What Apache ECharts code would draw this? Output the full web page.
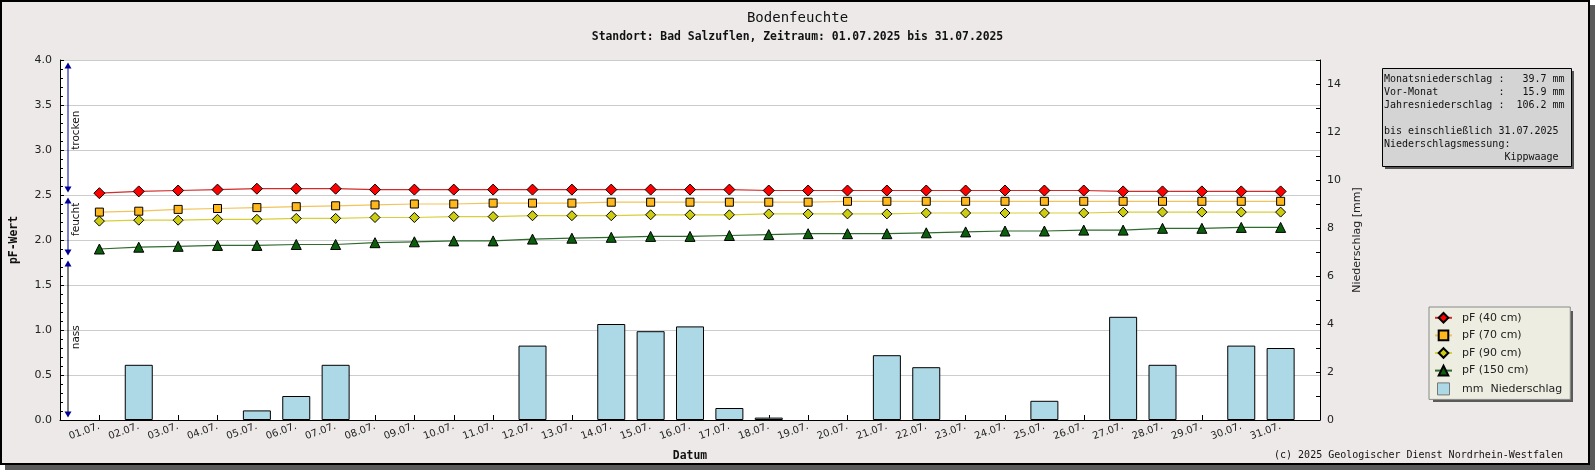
<!DOCTYPE html>
<html>
<head>
<meta charset="utf-8">
<script src="https://cdn.jsdelivr.net/npm/echarts@6/dist/echarts.min.js"></script>
<style>
html,body{margin:0;padding:0;background:#fff;}
#chart{width:1595px;height:470px;}
</style>
</head>
<body>
<div id="chart"></div>
<script>
const categories = ['01.07.','02.07.','03.07.','04.07.','05.07.','06.07.','07.07.','08.07.','09.07.','10.07.',
  '11.07.','12.07.','13.07.','14.07.','15.07.','16.07.','17.07.','18.07.','19.07.','20.07.',
  '21.07.','22.07.','23.07.','24.07.','25.07.','26.07.','27.07.','28.07.','29.07.','30.07.','31.07.'];

const pF40  = [2.52,2.54,2.55,2.56,2.57,2.57,2.57,2.56,2.56,2.56,2.56,2.56,2.56,2.56,2.56,2.56,2.56,2.55,2.55,2.55,2.55,2.55,2.55,2.55,2.55,2.55,2.54,2.54,2.54,2.54,2.54];
const pF70  = [2.31,2.32,2.34,2.35,2.36,2.37,2.38,2.39,2.40,2.40,2.41,2.41,2.41,2.42,2.42,2.42,2.42,2.42,2.42,2.43,2.43,2.43,2.43,2.43,2.43,2.43,2.43,2.43,2.43,2.43,2.43];
const pF90  = [2.21,2.22,2.22,2.23,2.23,2.24,2.24,2.25,2.25,2.26,2.26,2.27,2.27,2.27,2.28,2.28,2.28,2.29,2.29,2.29,2.29,2.30,2.30,2.30,2.30,2.30,2.31,2.31,2.31,2.31,2.31];
const pF150 = [1.90,1.92,1.93,1.94,1.94,1.95,1.95,1.97,1.98,1.99,1.99,2.01,2.02,2.03,2.04,2.04,2.05,2.06,2.07,2.07,2.07,2.08,2.09,2.10,2.10,2.11,2.11,2.13,2.13,2.14,2.14];
const rain  = [0,2.3,0,0,0.4,1.0,2.3,0,0,0,0,3.1,0,4.0,3.7,3.9,0.5,0.1,0,0,2.7,2.2,0,0,0.8,0,4.3,2.3,0,3.1,3.0];

const seriesNames = ['pF (40 cm)','pF (70 cm)','pF (90 cm)','pF (150 cm)','mm  Niederschlag'];

const zones = [
  {label:'trocken', from:4.0, to:2.5, labelAt:3.22, lineColor:'#000099'},
  {label:'feucht',  from:2.5, to:1.8, labelAt:2.23, lineColor:'#000099'},
  {label:'nass',    from:1.8, to:0.0, labelAt:0.92, lineColor:'#000000'}
];

const infoLines = [
  'Monatsniederschlag :   39.7 mm',
  'Vor-Monat          :   15.9 mm',
  'Jahresniederschlag :  106.2 mm',
  '',
  'bis einschließlich 31.07.2025',
  'Niederschlagsmessung:',
  '                    Kippwaage'
];

const titleText = 'Bodenfeuchte';
const subtitleText = 'Standort: Bad Salzuflen, Zeitraum: 01.07.2025 bis 31.07.2025';
const copyrightText = '(c) 2025 Geologischer Dienst Nordrhein-Westfalen';

const pad = a => [null].concat(a, [null]);
const MONO = "'DejaVu Sans Mono', 'Liberation Mono', monospace";
const SANS = "'DejaVu Sans', sans-serif";
const GRID = {left:60, top:60, width:1260, height:360};

const chart = echarts.init(document.getElementById('chart'), null, {renderer:'canvas'});

const option = {
  animation: false,
  backgroundColor: 'transparent',
  title: [
    {text: titleText, left: 'center', top: 6,
     textStyle: {fontFamily: MONO, fontSize: 14, fontWeight: 'normal', color: '#111'}},
    {text: subtitleText, left: 'center', top: 27,
     textStyle: {fontFamily: MONO, fontSize: 11.4, fontWeight: 'bold', color: '#111'}}
  ],
  grid: Object.assign({show: true, backgroundColor: '#fff', borderWidth: 0}, GRID),
  legend: {
    orient: 'vertical', left: 1429, top: 307,
    itemWidth: 17, itemHeight: 12, itemGap: 6,
    padding: [5, 8, 4, 5],
    backgroundColor: '#EDEDE1', borderColor: '#8a8a8a', borderWidth: 1,
    selectedMode: false,
    textStyle: {fontFamily: SANS, fontSize: 11, color: '#222', padding: [0,0,0,5]},
    data: [
      {name: seriesNames[0]}, {name: seriesNames[1]}, {name: seriesNames[2]}, {name: seriesNames[3]},
      {name: seriesNames[4], icon: 'path://M0,0H10V10H0Z', itemStyle:{borderColor:'#777', borderWidth:1}}
    ]
  },
  xAxis: {
    type: 'category', boundaryGap: false,
    data: [''].concat(categories, ['']),
    name: 'Datum', nameLocation: 'middle', nameGap: 31,
    nameTextStyle: {fontFamily: MONO, fontSize: 11.4, fontWeight: 'bold', color: '#111'},
    axisLine: {show: true, lineStyle: {color: '#000', width: 1}},
    axisTick: {show: true, inside: true, length: 5, interval: 0, lineStyle: {color: '#000'}},
    axisLabel: {interval: 0, rotate: 20, margin: 6, fontFamily: SANS, fontSize: 10, color: '#222'},
    splitLine: {show: false}
  },
  yAxis: [
    {
      type: 'value', min: 0, max: 4, interval: 0.5, position: 'left',
      name: 'pF-Wert', nameLocation: 'middle', nameGap: 40, nameRotate: 90,
      nameTextStyle: {fontFamily: MONO, fontSize: 11.4, fontWeight: 'bold', color: '#111'},
      axisLine: {show: true, lineStyle: {color: '#000', width: 1}},
      axisTick: {show: true, inside: true, length: 4, lineStyle: {color: '#000'}},
      minorTick: {show: true, splitNumber: 5, length: 3, lineStyle: {color: '#000'}},
      axisLabel: {formatter: v => v.toFixed(1), margin: 8, fontFamily: SANS, fontSize: 11, color: '#222'},
      splitLine: {show: true, lineStyle: {color: '#cccccc', width: 1}}
    },
    {
      type: 'value', min: 0, max: 15, interval: 1, position: 'right',
      name: 'Niederschlag [mm]', nameLocation: 'middle', nameGap: 32, nameRotate: 90,
      nameTextStyle: {fontFamily: SANS, fontSize: 11, color: '#222'},
      axisLine: {show: true, lineStyle: {color: '#000', width: 1}},
      axisTick: {show: true, inside: true, length: 4, lineStyle: {color: '#000'}},
      axisLabel: {formatter: v => (v % 2 === 0 ? String(v) : ''), margin: 7, fontFamily: SANS, fontSize: 11, color: '#222'},
      splitLine: {show: false}
    }
  ],
  series: [
    {name: seriesNames[4], type: 'bar', yAxisIndex: 1, data: pad(rain.map(v => (v === 0 ? '-' : v))), barWidth: 28, z: 2,
     itemStyle: {color: '#ADD8E6', borderColor: '#000', borderWidth: 1}},
    {name: seriesNames[0], type: 'line', yAxisIndex: 0, data: pad(pF40), z: 8,
     symbol: 'diamond', symbolSize: 11, showAllSymbol: true,
     lineStyle: {color: '#D42A2A', width: 1.2},
     itemStyle: {color: '#FF0000', borderColor: '#000', borderWidth: 1}},
    {name: seriesNames[1], type: 'line', yAxisIndex: 0, data: pad(pF70), z: 7,
     symbol: 'rect', symbolSize: 8, showAllSymbol: true,
     lineStyle: {color: '#F2C35A', width: 1.2},
     itemStyle: {color: '#FFB81C', borderColor: '#000', borderWidth: 1}},
    {name: seriesNames[2], type: 'line', yAxisIndex: 0, data: pad(pF90), z: 6,
     symbol: 'diamond', symbolSize: 10, showAllSymbol: true,
     lineStyle: {color: '#D8CF3A', width: 1.2},
     itemStyle: {color: '#CCCC11', borderColor: '#000', borderWidth: 1}},
    {name: seriesNames[3], type: 'line', yAxisIndex: 0, data: pad(pF150), z: 5,
     symbol: 'triangle', symbolSize: 10, showAllSymbol: true,
     lineStyle: {color: '#2F6B2F', width: 1.2},
     itemStyle: {color: '#0B5E0B', borderColor: '#000', borderWidth: 1}}
  ]
};

chart.setOption(option);

const g = [];
g.push({type:'rect', z:-100, silent:true, shape:{x:5, y:5, width:1590, height:465}, style:{fill:'#5a5a5a'}});
g.push({type:'rect', z:-99, silent:true, shape:{x:1, y:1, width:1588, height:463}, style:{fill:'#ECE9E8', stroke:'#000', lineWidth:2}});

g.push({type:'rect', z:-50, silent:true, shape:{x:1433, y:311, width:140, height:91}, style:{fill:'#5a5a5a'}});

g.push({type:'rect', z:-50, silent:true, shape:{x:1385, y:71, width:189, height:98}, style:{fill:'#555'}});
g.push({type:'rect', z:-49, silent:true, shape:{x:1382.5, y:68.5, width:189, height:98}, style:{fill:'#D4D4D4', stroke:'#000', lineWidth:1}});
g.push({type:'text', z:-48, silent:true, x:1384, y:73,
  style:{text: infoLines.join('\n'), font: '10px ' + MONO, fill:'#111', lineHeight:13, textVerticalAlign:'top', verticalAlign:'top'}});

g.push({type:'text', z:10, silent:true, x:1563, y:455,
  style:{text: copyrightText, font: '10px ' + MONO, fill:'#111', textAlign:'right', align:'right', textVerticalAlign:'middle', verticalAlign:'middle'}});

const ax = GRID.left + 8;
const yp = v => chart.convertToPixel({yAxisIndex: 0}, v);
const inset = 2.5;
zones.forEach(z => {
  const yTop = yp(z.from) + inset;
  const yBot = yp(z.to) - inset;
  g.push({type:'line', z:20, silent:true, shape:{x1:ax, y1:yTop + 3, x2:ax, y2:yBot - 3}, style:{stroke:z.lineColor, lineWidth:1}});
  g.push({type:'polygon', z:21, silent:true, shape:{points:[[ax, yTop],[ax-3.5, yTop+6],[ax+3.5, yTop+6]]}, style:{fill:'#000099'}});
  g.push({type:'polygon', z:21, silent:true, shape:{points:[[ax, yBot],[ax-3.5, yBot-6],[ax+3.5, yBot-6]]}, style:{fill:'#000099'}});
  g.push({type:'text', z:21, silent:true, x: ax + 8.5, y: yp(z.labelAt), rotation: Math.PI/2,
    style:{text: z.label, font: '10.5px ' + SANS, fill:'#111', textAlign:'center', align:'center', textVerticalAlign:'middle', verticalAlign:'middle'}});
});

chart.setOption({graphic: g});
</script>
</body>
</html>
